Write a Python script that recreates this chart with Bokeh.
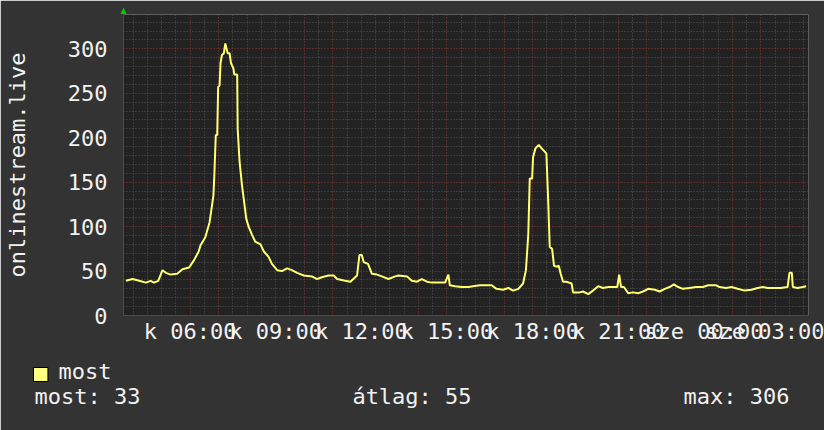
import math
from bokeh.plotting import figure
from bokeh.models import FixedTicker, Range1d, Title
from bokeh.embed import file_html
from bokeh.resources import INLINE

# time in minutes since Tuesday 00:00, value of the "most" series
t_min = [225, 239, 253, 267, 277, 284, 293, 302, 309, 319, 333, 344, 358, 368, 378, 382, 392, 401, 405, 409,
         411, 414, 417, 419, 422, 424, 427, 431, 434, 439, 443, 446, 451, 453, 459, 460, 464, 469, 474, 478,
         483, 490, 497, 508, 515, 525, 532, 543, 553, 564, 574, 585, 599, 616, 627, 637, 651, 662, 669, 686,
         697, 711, 716, 721, 725, 734, 742, 753, 763, 777, 791, 798, 816, 826, 837, 847, 858, 868, 882, 896,
         903, 906, 917, 931, 945, 955, 969, 983, 994, 1004, 1018, 1029, 1039, 1050, 1060, 1066, 1071, 1074, 1079, 1081,
         1086, 1093, 1099, 1106, 1109, 1113, 1116, 1121, 1125, 1130, 1135, 1139, 1144, 1151, 1162, 1165, 1179, 1186, 1197, 1207,
         1218, 1228, 1239, 1249, 1258, 1262, 1266, 1272, 1281, 1291, 1302, 1312, 1323, 1337, 1347, 1358, 1368, 1377, 1386, 1396,
         1410, 1424, 1438, 1449, 1466, 1473, 1487, 1498, 1511, 1526, 1540, 1553, 1564, 1574, 1588, 1602, 1616, 1620, 1625, 1627,
         1637, 1648, 1655]
values = [39, 41, 39, 37, 39, 37, 39, 51, 48, 46, 47, 52, 54, 62, 72, 79, 88, 105, 120, 135,
          158, 203, 203, 257, 259, 284, 293, 295, 306, 295, 295, 284, 278, 271, 271, 210, 173, 147, 126, 109,
          100, 91, 83, 80, 72, 66, 58, 51, 50, 53, 51, 48, 45, 44, 41, 43, 45, 45, 41, 39,
          38, 45, 68, 68, 60, 58, 47, 46, 44, 41, 44, 45, 44, 39, 38, 41, 38, 37, 37, 37,
          46, 34, 33, 32, 32, 33, 34, 34, 34, 30, 29, 31, 28, 30, 36, 51, 92, 154, 154, 178,
          188, 192, 188, 184, 182, 126, 77, 75, 56, 55, 56, 47, 38, 38, 36, 26, 26, 27, 24, 28,
          33, 31, 32, 32, 32, 46, 32, 32, 25, 26, 25, 27, 30, 29, 27, 30, 32, 35, 32, 30,
          31, 32, 32, 34, 34, 32, 31, 32, 30, 28, 29, 31, 32, 31, 31, 31, 32, 48, 48, 32,
          31, 32, 33]

x_tick_pos = [360, 540, 720, 900, 1080, 1260, 1440, 1620]
x_tick_labels = ["k 06:00", "k 09:00", "k 12:00", "k 15:00", "k 18:00", "k 21:00", "sze 00:00", "sze 03:00"]
x_major_grid = list(range(240, 1661, 60))
x_minor_grid = list(range(270, 1661, 60))
y_ticks = [0, 50, 100, 150, 200, 250, 300]
y_minor = [v for v in range(10, 340, 10) if v % 50 != 0]
series_name = "most"
axis_title = "onlinestream.live"
stat_texts = ["most: 33", "átlag: 55", "max: 306"]
stat_cols = [0, 24, 49]   # character columns of the justified summary line

FONT = "DejaVu Sans Mono"
FS = "22px"
BG = "#333333"
TXT = "#f2f2f2"
LINE = "#ffff70"
NBSP = "\u00a0"

p = figure(width=824, height=430, output_backend="svg", toolbar_location=None,
           x_range=Range1d(220, 1660), y_range=Range1d(0, 338.6),
           min_border_left=123, min_border_right=16, min_border_top=14, min_border_bottom=115)
p.background_fill_color = "#222222"
p.border_fill_color = BG
p.outline_line_color = None

p.xaxis.ticker = FixedTicker(ticks=x_tick_pos)
p.xaxis.major_label_overrides = {k: v for k, v in zip(x_tick_pos, x_tick_labels)}
p.yaxis.ticker = FixedTicker(ticks=y_ticks)
for ax in (p.xaxis, p.yaxis):
    ax.major_label_text_font = FONT
    ax.major_label_text_font_size = FS
    ax.major_label_text_color = TXT
    ax.major_tick_line_color = None
    ax.minor_tick_line_color = None
    ax.axis_line_color = "#4a4a4a"
p.xaxis.major_label_standoff = -3
p.yaxis.major_label_standoff = 10
p.yaxis.axis_label = axis_title
p.yaxis.axis_label_text_font = FONT
p.yaxis.axis_label_text_font_size = FS
p.yaxis.axis_label_text_font_style = "normal"
p.yaxis.axis_label_text_color = TXT
p.yaxis.axis_label_text_line_height = 1.0
p.yaxis.axis_label_standoff = 35

p.xgrid.ticker = FixedTicker(ticks=x_major_grid, minor_ticks=x_minor_grid)
p.ygrid.ticker = FixedTicker(ticks=y_ticks, minor_ticks=y_minor)
for g in (p.xgrid, p.ygrid):
    g.grid_line_color = "#8a3838"
    g.grid_line_dash = "1 2"
    g.grid_line_width = 1
    g.minor_grid_line_color = "#555555"
    g.minor_grid_line_dash = "1 2"
    g.minor_grid_line_width = 1

p.line(t_min, values, line_color=LINE, line_width=2)

# small green arrow at the top of the value axis
p.add_layout(Title(text="▲", align="left", offset=-3, standoff=0, text_font="DejaVu Sans",
                   text_font_size="8px", text_color="#00cc00"), "above")

# spacer between the time axis and the legend row
p.add_layout(Title(text=NBSP, align="left", offset=-90, standoff=-12, text_font=FONT,
                   text_font_size=FS, text_font_style="normal", text_color=BG), "below")
# legend swatch (takes no room of its own, so the label shares its row)
p.add_layout(Title(text=NBSP + NBSP, align="left", offset=-90, standoff=-40, text_font=FONT,
                   text_font_size="12px", text_font_style="normal", text_color="#ffff80",
                   background_fill_color="#ffff80", border_line_color="black", border_line_width=1),
             "below")
# legend label
p.add_layout(Title(text=series_name, align="left", offset=-65, standoff=-9, text_font=FONT,
                   text_font_size=FS, text_font_style="normal", text_color=TXT), "below")

# summary row
line_chars = []
for txt, col in zip(stat_texts, stat_cols):
    line_chars.extend([NBSP] * (col - len(line_chars)))
    line_chars.extend(list(txt))
summary = "".join(line_chars)
p.add_layout(Title(text=summary, align="left", offset=-89, standoff=5, text_font=FONT,
                   text_font_size=FS, text_font_style="normal", text_color=TXT), "below")

open("out.html", "w").write(file_html(p, INLINE))
